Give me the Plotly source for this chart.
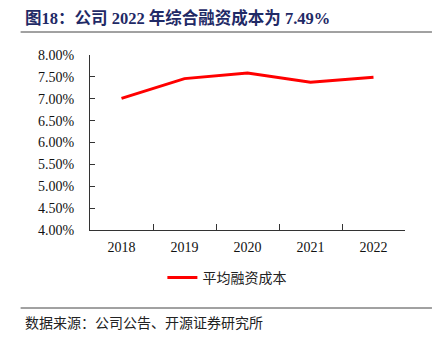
import plotly.graph_objects as go

years = ["2018", "2019", "2020", "2021", "2022"]
cost = [7.01, 7.46, 7.59, 7.38, 7.49]
y_ticks = [4.0, 4.5, 5.0, 5.5, 6.0, 6.5, 7.0, 7.5, 8.0]
y_tick_labels = [f"{v:.2f}%" for v in y_ticks]
series_name = "平均融资成本"
title_text = "图18：公司 2022 年综合融资成本为 7.49%"
source_text = "数据来源：公司公告、开源证券研究所"

W, H = 439, 343
L, R, T, B = 89.5, 34, 55, 113
pw = W - L - R
ph = H - T - B

def px(x):
    return (x - L) / pw

def py(y):
    return (H - B - y) / ph

serif = "Liberation Serif, Noto Sans CJK SC"
fig = go.Figure()
fig.add_trace(go.Scatter(x=years, y=cost, mode="lines", name=series_name,
                         line=dict(color="#ff0000", width=3)))

fig.update_layout(
    width=W, height=H,
    margin=dict(l=L, r=R, t=T, b=B),
    plot_bgcolor="white", paper_bgcolor="white",
    showlegend=True,
    legend=dict(orientation="h", x=px(162), y=py(278), xanchor="left", yanchor="middle",
                font=dict(family="Noto Sans CJK SC", size=14, color="#222")),
    xaxis=dict(type="category", range=[-0.5, 4.5], showline=True, linecolor="#333",
               linewidth=1, ticks="inside", ticklen=6, tickcolor="#333",
               tickson="boundaries", showgrid=False, zeroline=False,
               tickfont=dict(family=serif, size=14, color="#111"), ticklabelstandoff=4),
    yaxis=dict(range=[4.0, 8.0], tickvals=y_ticks, ticktext=y_tick_labels,
               showline=True, linecolor="#333", linewidth=1, ticks="inside", ticklen=5,
               tickcolor="#333", showgrid=False, zeroline=False,
               tickfont=dict(family=serif, size=14, color="#111"), ticklabelstandoff=12),
    shapes=[
        dict(type="line", xref="paper", yref="paper", x0=px(20), x1=px(432),
             y0=py(32), y1=py(32), line=dict(color="#444", width=1)),
        dict(type="line", xref="paper", yref="paper", x0=px(20), x1=px(432),
             y0=py(308), y1=py(308), line=dict(color="#444", width=1)),
    ],
    annotations=[
        dict(text=f"<b>{title_text}</b>", xref="paper", yref="paper", x=px(22), y=py(18),
             xanchor="left", yanchor="middle", showarrow=False,
             font=dict(family=serif, size=16.5, color="#1f2a66")),
        dict(text=source_text, xref="paper", yref="paper", x=px(22), y=py(322),
             xanchor="left", yanchor="middle", showarrow=False,
             font=dict(family="Noto Sans CJK SC", size=14, color="#222")),
    ],
)

fig.write_html("out.html")
